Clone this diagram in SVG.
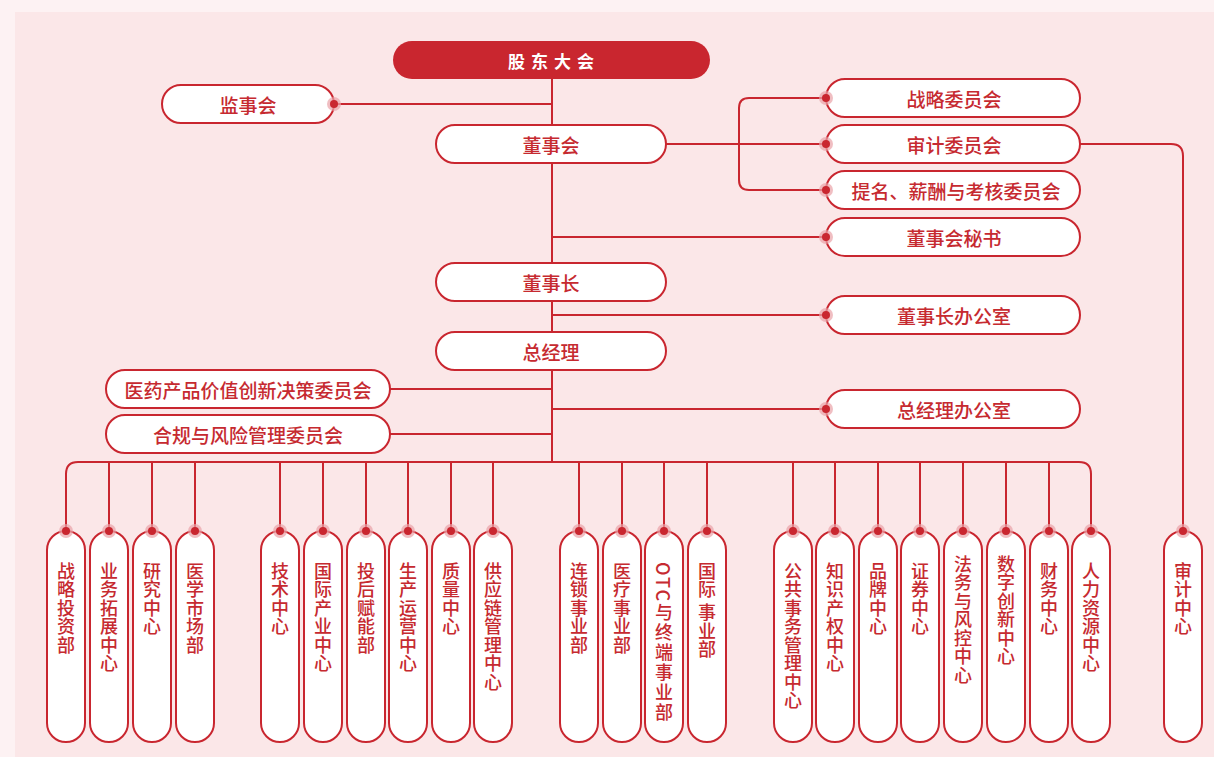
<svg xmlns="http://www.w3.org/2000/svg" width="1214" height="757" viewBox="0 0 1214 757">
<style>
.n{fill:#fff;stroke:#c9262f;stroke-width:2}
.t{font-family:"Noto Sans CJK SC","Noto Sans",sans-serif;font-size:19px;font-weight:500;fill:#c62a30;text-anchor:middle;dominant-baseline:central}
.v{font-family:"Noto Sans CJK SC","Noto Sans",sans-serif;font-size:18px;font-weight:500;fill:#c62a30;writing-mode:vertical-rl;letter-spacing:0.5px}
.c{fill:none;stroke:#c9262f;stroke-width:2}
.h{fill:#e9a3a8;opacity:0.7}
.d{fill:#c9262f}
</style>
<defs>
<g id="dot"><circle class="h" r="7"/><circle class="d" r="4"/></g>
</defs>
<rect width="1214" height="757" fill="#fdf2f3"/>
<rect x="15" y="12" width="1199" height="745" fill="#fbe7e8"/>
<g id="connectors">
<path class="c" d="M552,79 V462"/>
<path class="c" d="M334,104 H552"/>
<path class="c" d="M666,144 H826"/>
<path class="c" d="M826,98 H749 Q739,98 739,108 V180 Q739,190 749,190 H826"/>
<path class="c" d="M1080,144 H1171 Q1183,144 1183,156 V531"/>
<path class="c" d="M552,237 H826"/>
<path class="c" d="M552,315 H826"/>
<path class="c" d="M390,389 H552"/>
<path class="c" d="M552,409 H826"/>
<path class="c" d="M390,434 H552"/>
<path class="c" d="M66,531 V474 Q66,462 78,462 H1079 Q1091,462 1091,474 V531"/>
<path class="c" d="M109,462V531M152,462V531M195,462V531M280,462V531M323,462V531M366,462V531M408,462V531M451,462V531M493,462V531M579,462V531M622,462V531M664,462V531M707,462V531M793,462V531M835,462V531M878,462V531M920,462V531M963,462V531M1006,462V531M1049,462V531"/>
</g>
<g id="n-gdh"><rect x="393" y="41" width="317" height="38" rx="19" fill="#c9262f"/><text x="554" y="60" class="t" style="fill:#fff;font-weight:bold;font-size:17px;letter-spacing:6px">股东大会</text></g>
<g id="n-jsh"><rect class="n" x="162" y="85" width="172" height="38" rx="19"/><text class="t" x="248" y="104">监事会</text></g>
<g id="n-dsh"><rect class="n" x="436" y="125" width="230" height="38" rx="19"/><text class="t" x="551" y="144">董事会</text></g>
<g id="n-zlwyh"><rect class="n" x="826" y="79" width="254" height="38" rx="19"/><text class="t" x="954" y="98">战略委员会</text></g>
<g id="n-sjwyh"><rect class="n" x="826" y="125" width="254" height="38" rx="19"/><text class="t" x="954" y="144">审计委员会</text></g>
<g id="n-tmwyh"><rect class="n" x="826" y="171" width="254" height="38" rx="19"/><text class="t" x="956" y="190">提名、薪酬与考核委员会</text></g>
<g id="n-dshms"><rect class="n" x="826" y="218" width="254" height="38" rx="19"/><text class="t" x="954" y="237">董事会秘书</text></g>
<g id="n-dsz"><rect class="n" x="436" y="263" width="230" height="38" rx="19"/><text class="t" x="551" y="282">董事长</text></g>
<g id="n-dszbgs"><rect class="n" x="826" y="296" width="254" height="38" rx="19"/><text class="t" x="954" y="315">董事长办公室</text></g>
<g id="n-zjl"><rect class="n" x="436" y="332" width="230" height="38" rx="19"/><text class="t" x="551" y="351">总经理</text></g>
<g id="n-yyjc"><rect class="n" x="106" y="370" width="284" height="38" rx="19"/><text class="t" x="248" y="389">医药产品价值创新决策委员会</text></g>
<g id="n-zjlbgs"><rect class="n" x="826" y="390" width="254" height="38" rx="19"/><text class="t" x="954" y="409">总经理办公室</text></g>
<g id="n-hgfx"><rect class="n" x="106" y="415" width="284" height="38" rx="19"/><text class="t" x="248" y="434">合规与风险管理委员会</text></g>
<g id="n-b1"><rect class="n" x="47" y="531" width="38" height="211" rx="19"/><use href="#dot" x="66" y="531"/><text class="v" x="66" y="562">战略投资部</text></g>
<g id="n-b2"><rect class="n" x="90" y="531" width="38" height="211" rx="19"/><use href="#dot" x="109" y="531"/><text class="v" x="109" y="562">业务拓展中心</text></g>
<g id="n-b3"><rect class="n" x="133" y="531" width="38" height="211" rx="19"/><use href="#dot" x="152" y="531"/><text class="v" x="152" y="562">研究中心</text></g>
<g id="n-b4"><rect class="n" x="176" y="531" width="38" height="211" rx="19"/><use href="#dot" x="195" y="531"/><text class="v" x="195" y="562">医学市场部</text></g>
<g id="n-b5"><rect class="n" x="261" y="531" width="38" height="211" rx="19"/><use href="#dot" x="280" y="531"/><text class="v" x="280" y="562">技术中心</text></g>
<g id="n-b6"><rect class="n" x="304" y="531" width="38" height="211" rx="19"/><use href="#dot" x="323" y="531"/><text class="v" x="323" y="562">国际产业中心</text></g>
<g id="n-b7"><rect class="n" x="347" y="531" width="38" height="211" rx="19"/><use href="#dot" x="366" y="531"/><text class="v" x="366" y="562">投后赋能部</text></g>
<g id="n-b8"><rect class="n" x="389" y="531" width="38" height="211" rx="19"/><use href="#dot" x="408" y="531"/><text class="v" x="408" y="562">生产运营中心</text></g>
<g id="n-b9"><rect class="n" x="432" y="531" width="38" height="211" rx="19"/><use href="#dot" x="451" y="531"/><text class="v" x="451" y="562">质量中心</text></g>
<g id="n-b10"><rect class="n" x="474" y="531" width="38" height="211" rx="19"/><use href="#dot" x="493" y="531"/><text class="v" x="493" y="562">供应链管理中心</text></g>
<g id="n-b11"><rect class="n" x="560" y="531" width="38" height="211" rx="19"/><use href="#dot" x="579" y="531"/><text class="v" x="579" y="562">连锁事业部</text></g>
<g id="n-b12"><rect class="n" x="603" y="531" width="38" height="211" rx="19"/><use href="#dot" x="622" y="531"/><text class="v" x="622" y="562">医疗事业部</text></g>
<g id="n-b13"><rect class="n" x="645" y="531" width="38" height="211" rx="19"/><use href="#dot" x="664" y="531"/><text class="v" x="664" y="562" style="letter-spacing:2px">OTC与终端事业部</text></g>
<g id="n-b14"><rect class="n" x="688" y="531" width="38" height="211" rx="19"/><use href="#dot" x="707" y="531"/><text class="v" x="707" y="562">国际 事业部</text></g>
<g id="n-b15"><rect class="n" x="774" y="531" width="38" height="211" rx="19"/><use href="#dot" x="793" y="531"/><text class="v" x="793" y="562">公共事务管理中心</text></g>
<g id="n-b16"><rect class="n" x="816" y="531" width="38" height="211" rx="19"/><use href="#dot" x="835" y="531"/><text class="v" x="835" y="562">知识产权中心</text></g>
<g id="n-b17"><rect class="n" x="859" y="531" width="38" height="211" rx="19"/><use href="#dot" x="878" y="531"/><text class="v" x="878" y="562">品牌中心</text></g>
<g id="n-b18"><rect class="n" x="901" y="531" width="38" height="211" rx="19"/><use href="#dot" x="920" y="531"/><text class="v" x="920" y="562">证券中心</text></g>
<g id="n-b19"><rect class="n" x="944" y="531" width="38" height="211" rx="19"/><use href="#dot" x="963" y="531"/><text class="v" x="963" y="555">法务与风控中心</text></g>
<g id="n-b20"><rect class="n" x="987" y="531" width="38" height="211" rx="19"/><use href="#dot" x="1006" y="531"/><text class="v" x="1006" y="555">数字创新中心</text></g>
<g id="n-b21"><rect class="n" x="1030" y="531" width="38" height="211" rx="19"/><use href="#dot" x="1049" y="531"/><text class="v" x="1049" y="562">财务中心</text></g>
<g id="n-b22"><rect class="n" x="1072" y="531" width="38" height="211" rx="19"/><use href="#dot" x="1091" y="531"/><text class="v" x="1091" y="562">人力资源中心</text></g>
<g id="n-b23"><rect class="n" x="1164" y="531" width="38" height="211" rx="19"/><use href="#dot" x="1183" y="531"/><text class="v" x="1183" y="562">审计中心</text></g>
<g id="connector-dots">
<use href="#dot" x="334" y="104"/>
<use href="#dot" x="826" y="98"/>
<use href="#dot" x="826" y="144"/>
<use href="#dot" x="826" y="190"/>
<use href="#dot" x="826" y="237"/>
<use href="#dot" x="826" y="315"/>
<use href="#dot" x="826" y="409"/>
</g>
</svg>
